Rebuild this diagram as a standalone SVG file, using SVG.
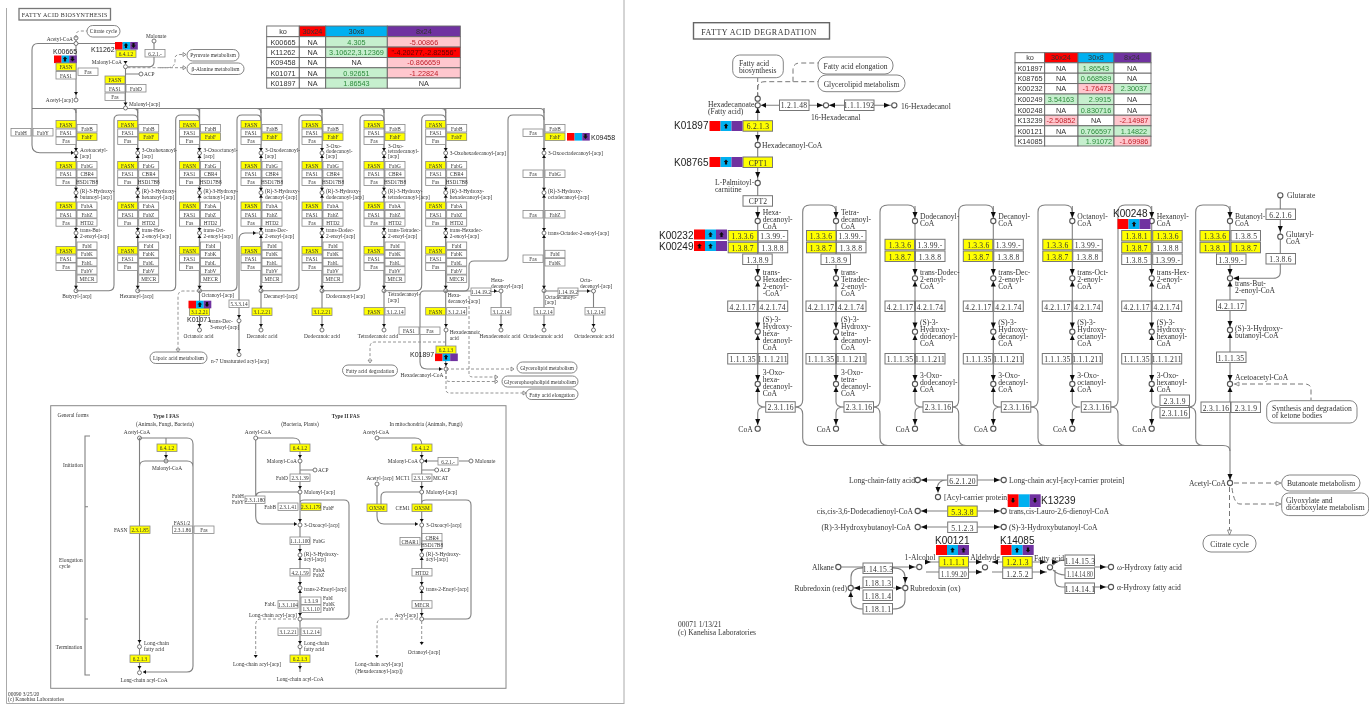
<svg xmlns="http://www.w3.org/2000/svg" width="1369" height="704" viewBox="0 0 1369 704">
<style>
text{font-family:"Liberation Serif","Times New Roman",serif;fill:#333}
.s text{font-size:5.3px;text-anchor:middle}
.l text{font-size:5.4px}
.e text{font-size:5.4px;text-anchor:end}
.m text{font-size:5.4px;text-anchor:middle}
.r text{font-size:7.6px;text-anchor:middle;letter-spacing:.2px}
.p text{font-size:7.6px}
.pe text{font-size:7.6px;text-anchor:end}
.pm text{font-size:7.6px;text-anchor:middle}
.k1 text{font-family:"Liberation Sans",Arial,sans-serif;font-size:10px;fill:#222}
.k0 text{font-family:"Liberation Sans",Arial,sans-serif;font-size:7px;fill:#222}
.t text{font-family:"Liberation Sans",Arial,sans-serif;font-size:7.3px;text-anchor:middle;fill:#333}
.t .g{fill:#2e8b3d}.t .d{fill:#c0202a}
.t rect{stroke:#666;stroke-width:.9}
rect.a,rect.ay{width:20px;height:7.5px;stroke:#888;stroke-width:.8;fill:#fff}
rect.ay{fill:#ff0}
rect.c,rect.cy{width:29.5px;height:10.5px;stroke:#777;stroke-width:1;fill:#fff}
rect.cy{fill:#ff0}
.ln{fill:none;stroke:#808080;stroke-width:1.1}
.th{fill:none;stroke:#888;stroke-width:1.4}
.d1{fill:none;stroke:#888;stroke-width:.9;stroke-dasharray:3 2}
.d2{fill:none;stroke:#777;stroke-width:1;stroke-dasharray:5 3}
.o{fill:#fff;stroke:#666;stroke-width:.9}
.o2{fill:#fff;stroke:#555;stroke-width:1.1}
.pill{fill:#fff;stroke:#777;stroke-width:.9}
.ar{fill:#111}
.oa{fill:#fff;stroke:#777;stroke-width:.8}
</style>
<defs>
<filter id="soft" x="0" y="0" width="100%" height="100%"><feGaussianBlur stdDeviation="0.45"/></filter>
<g id="cl"><path class="th" d="M0,108V291"/><circle class="o" cy="153" r="2"/><circle class="o" cy="192.7" r="2"/><circle class="o" cy="233" r="2"/><circle class="o" cy="290.7" r="2"/><path class="ar" d="M-2,148h4l-2,3zM0,155l2,3h-4zM-2,187.7h4l-2,3zM0,194.7l2,3h-4zM-2,228h4l-2,3zM0,235l2,3h-4zM-2,285.7h4l-2,3z"/></g>
<g id="cr"><path class="ln" d="M0,206V402Q0,407 8,407M8,407Q0,407 0,413V425"/><circle class="o2" cy="221" r="2.6"/><circle class="o2" cy="278.3" r="2.6"/><circle class="o2" cy="331.7" r="2.6"/><circle class="o2" cy="384" r="2.6"/><circle class="o2" cy="428.7" r="2.6"/><path class="ar" d="M-2.5,212h5l-2.5,6zM-2.5,269h5l-2.5,6zM0,281.5l2.5,5h-5zM-2.5,322.5h5l-2.5,6zM0,335l2.5,5h-5zM-2.5,375h5l-2.5,6zM0,387l2.5,5h-5zM-2.5,419h5l-2.5,6z"/></g>
<g id="sq"><rect width="7.6" height="7.6" fill="#f00"/><rect x="7.6" width="7.6" height="7.6" fill="#00b0f0"/><rect x="15.2" width="7.6" height="7.6" fill="#7030a0"/></g>
<g id="sq2"><rect width="11" height="10" fill="#f00"/><rect x="11" width="11" height="10" fill="#00b0f0"/><rect x="22" width="11" height="10" fill="#7030a0"/></g>
<path id="u" class="ar" d="M0,-2.5l2.3,2.5h-1.2v2.5h-2.2v-2.5h-1.2z"/>
<path id="v" class="ar" d="M0,2.5l2.3,-2.5h-1.2v-2.5h-2.2v2.5h-1.2z"/>
</defs>
<rect width="1369" height="704" fill="#fff"/>
<g filter="url(#soft)">
<g id="frame"><path fill="none" stroke="#aaa" stroke-width="1" d="M6.5,8V703.5H624M624,0V704"/></g>
<g id="connectors">
<use href="#cl" x="76"/><use href="#cl" x="137.7"/><use href="#cl" x="199.5"/><use href="#cl" x="261"/><use href="#cl" x="322"/><use href="#cl" x="384"/><use href="#cl" x="445.7"/><use href="#cl" x="544"/>
<path class="ln" d="M76,38V100M125.5,66V108M154,43V62Q154,66.7 149,66.7H128M76,43.5H38Q32,43.5 32,50V145Q32,152.7 40,152.7H73M76,43.5H125Q125.5,43.5 125.5,50M125.5,74H139M32,108.5H540Q544,108.5 544,113M133.7,108.5Q137.7,108.5 137.7,113M195.5,108.5Q199.5,108.5 199.5,113M257,108.5Q261,108.5 261,113M318,108.5Q322,108.5 322,113M380,108.5Q384,108.5 384,113M441.7,108.5Q445.7,108.5 445.7,113M72,108.5Q76,108.5 76,113"/>
<path class="ln" d="M76,290.7H109Q114,290.7 114,285V120Q114,115 119,115H133Q137.7,115 137.7,120M137.7,290.7H171Q175.7,290.7 175.7,285V120Q175.7,115 181,115H195Q199.5,115 199.5,120M199.5,290.7H232Q237,290.7 237,285V120Q237,115 242,115H257Q261,115 261,120M261,290.7H294Q299,290.7 299,285V120Q299,115 304,115H318Q322,115 322,120M322,290.7H355Q360,290.7 360,285V120Q360,115 365,115H380Q384,115 384,120M384,290.7H417Q421.7,290.7 421.7,285V120Q421.7,115 427,115H441Q445.7,115 445.7,120M445.7,291H464Q469,291 469,286V266Q469,261 474,261H503Q508,261 508,256V120Q508,115 513,115H540Q544,115 544,120"/>
<path class="ln" d="M199.5,291V328M239,354V240Q239,233 245,233H258M261,291V328M322,291V328M384,291V328M445.7,291V367M544,291V328M445.7,291H424Q420,291 420,296V362Q420,369 427,369H443M446,291H491M501,293V328M491,291.5H499M578,291H591M593.5,293V328M544,291H558"/>
<circle class="o" cx="76" cy="38" r="2"/><circle class="o" cx="76" cy="43.5" r="2"/><circle class="o" cx="154" cy="41" r="2"/><circle class="o" cx="125.5" cy="66.7" r="2"/><circle class="o" cx="141" cy="74" r="2"/><circle class="o" cx="76" cy="100" r="2"/><circle class="o" cx="125.5" cy="108" r="2"/>
<circle class="o" cx="199.5" cy="330" r="2"/><circle class="o" cx="261" cy="330" r="2"/><circle class="o" cx="322" cy="330" r="2"/><circle class="o" cx="384" cy="330" r="2"/><circle class="o" cx="446" cy="330" r="2"/><circle class="o" cx="501" cy="291" r="2"/><circle class="o" cx="501" cy="330" r="2"/><circle class="o" cx="544" cy="330" r="2"/><circle class="o" cx="593.5" cy="291" r="2"/><circle class="o" cx="593.5" cy="330" r="2"/><circle class="o" cx="239" cy="320.7" r="2"/><circle class="o" cx="239" cy="354.7" r="2"/><circle class="o" cx="446" cy="369" r="2"/>
<path class="ar" d="M74,92h4l-2,3zM123.5,61h4l-2,3zM123.5,102.5h4l-2,3zM71,150.7l3,2l-3,2zM253,231l3,2l-3,2zM439,367l3,2l-3,2zM197.5,324h4l-2,3zM259,324h4l-2,3zM320,324h4l-2,3zM382,324h4l-2,3zM444,324h4l-2,3zM499,324h4l-2,3zM542,324h4l-2,3zM591.5,324h4l-2,3zM237,315h4l-2,3zM237,349h4l-2,3zM444,363h4l-2,3zM494,289l3,2l-3,2zM587,289l3,2l-3,2z"/>
<path class="d1" d="M76,38V35Q76,31 81,31H87M127.5,67.7H167Q175,67.7 175,61V58Q175,54.5 181,54.5H186M160,67.7H186M199.5,291H183Q178,291 178,297V349M446,342H375Q370,342 370,347V359M446,369H512M446,371V390Q446,393 450,393H525M446,371V379Q446,381.5 450,381.5H497M469,296V374Q469,377 473,377H497"/>
<path class="oa" d="M183,52.5l3,2l-3,2zM183,65.7l3,2l-3,2zM176,349h4l-2,3zM368,360h4l-2,3zM511,367l3,2l-3,2zM523,391l3,2l-3,2zM495,379.5l3,2l-3,2zM495,375l3,2l-3,2z"/>
<circle class="o" cx="139.5" cy="438" r="2"/><circle class="o" cx="166" cy="461" r="2"/><circle class="o" cx="139.5" cy="646.7" r="2"/><circle class="o" cx="139.5" cy="672.7" r="2"/>
<path class="ln" d="M139.5,438V645M139.5,438H187Q193,438 193,444V666Q193,672 187,672H143M166,438V459M139.5,467Q139.5,461 145,461H187Q193,461 193,467M139.5,649V670"/>
<path class="ln" d="M90,436H85V675H90M85,506.7H88M85,619H88"/>
<path class="ar" d="M137.5,640h4l-2,3zM137.5,666h4l-2,3zM164,455h4l-2,3zM146,670l-3,2l3,2z"/>
<path class="ln" d="M255.7,438H293Q300,438 300,444V672M255.7,438V516Q255.7,524 262,524H297M300,470H313M300,492H262Q256,492 256,497M300,503V503Q300,500 304,500H344Q349,500 349,505V614Q349,619 344,619H300M377,438H415Q421.7,438 421.7,444V617M421.7,470H435M377,486V516Q377,524 384,524H418M421.7,492H386Q381,492 381,497V504M421.7,503Q421.7,500 426,500H466Q471,500 471,505V614Q471,619 466,619H421.7M438,461H424M459,461H469"/>
<circle class="o" cx="255.7" cy="438" r="2"/><circle class="o" cx="300" cy="461" r="2"/><circle class="o" cx="315" cy="470" r="2"/><circle class="o" cx="300" cy="492" r="2"/><circle class="o" cx="300" cy="525" r="2"/><circle class="o" cx="300" cy="555" r="2"/><circle class="o" cx="300" cy="588" r="2"/><circle class="o" cx="300" cy="619" r="2"/><circle class="o" cx="300" cy="646.7" r="2"/>
<circle class="o" cx="377" cy="438" r="2"/><circle class="o" cx="421.7" cy="461" r="2"/><circle class="o" cx="436.7" cy="470" r="2"/><circle class="o" cx="421.7" cy="492" r="2"/><circle class="o" cx="377" cy="484" r="2"/><circle class="o" cx="421.7" cy="525" r="2"/><circle class="o" cx="421.7" cy="555" r="2"/><circle class="o" cx="421.7" cy="588" r="2"/><circle class="o" cx="421.7" cy="619" r="2"/><circle class="o" cx="471" cy="461" r="2"/>
<path class="ar" d="M298,455h4l-2,3zM298,486h4l-2,3zM298,519h4l-2,3zM298,549h4l-2,3zM300,557l2,3h-4zM298,582h4l-2,3zM300,590l2,3h-4zM298,613h4l-2,3zM298,641h4l-2,3zM298,666h4l-2,3zM294,522l3,2l-3,2zM419.7,455h4l-2,3zM419.7,486h4l-2,3zM419.7,519h4l-2,3zM419.7,549h4l-2,3zM421.7,557l2,3h-4zM419.7,582h4l-2,3zM421.7,590l2,3h-4zM419.7,613h4l-2,3zM415,522l3,2l-3,2zM427,459l-3,2l3,2z"/>
<path class="d1" d="M296,619H261Q255.7,619 255.7,625V655M421.7,621V642M418,619H382Q377,619 377,625V655"/>
<path class="ar" d="M253.7,655h4l-2,3zM419.7,642h4l-2,3zM375,655h4l-2,3z"/>
<path class="d2" d="M757.7,98V78M757.7,97V88Q757.7,81.7 765,81.7H818M793,81.7V70Q793,63 800,63H818"/>
<path class="ln" d="M757.7,108V206M761,105.3H779M809,105.3H824M828.5,105.3H844M874,105.3H892"/>
<circle class="o2" cx="757.7" cy="98.7" r="2.6"/><circle class="o2" cx="757.7" cy="105.3" r="2.6"/><circle class="o2" cx="826" cy="105.3" r="2.6"/><circle class="o2" cx="894.3" cy="105.3" r="2.6"/><circle class="o2" cx="757.7" cy="145" r="2.6"/><circle class="o2" cx="757.7" cy="183" r="2.6"/>
<path class="ar" d="M761,105.3l5,-2.5v5zM817,102.8l6,2.5l-6,2.5zM835,102.8l-6,2.5l6,2.5zM884,102.8l6,2.5l-6,2.5zM757.7,108l2.5,5h-5zM755.2,135h5l-2.5,6zM755.2,172h5l-2.5,6z"/>
<use href="#cr" x="757.7"/><use href="#cr" x="836"/><use href="#cr" x="915"/><use href="#cr" x="993.3"/><use href="#cr" x="1072.3"/><use href="#cr" x="1151.7"/>
<path class="ln" d="M795,407Q802.7,407 802.7,400V212Q802.7,205 810,205H829Q836,205 836,212M873.5,407Q880,407 880,400V212Q880,205 888,205H908Q915,205 915,212M952.5,407Q958.7,407 958.7,400V212Q958.7,205 966,205H986Q993.3,205 993.3,212M1031,407Q1038,407 1038,400V212Q1038,205 1045,205H1065Q1072.3,205 1072.3,212M1111,407Q1118,407 1118,400V212Q1118,205 1125,205H1145Q1151.7,205 1151.7,212M1188,407Q1195.7,407 1195.7,400V212Q1195.7,205 1203,205H1223Q1230,205 1230,212"/>
<path class="ln" d="M795,407Q802.7,407 802.7,414V438Q802.7,445.5 810,445.5H1223Q1230,445.5 1230,451M873.5,407Q880,407 880,414V438Q880,445.5 888,445.5M952.5,407Q958.7,407 958.7,414V438Q958.7,445.5 966,445.5M1031,407Q1038,407 1038,414V438Q1038,445.5 1045,445.5M1111,407Q1118,407 1118,414V438Q1118,445.5 1125,445.5M1188,407Q1195.7,407 1195.7,414V438Q1195.7,445.5 1203,445.5"/>
<path class="ln" d="M1230,206V480M1280.3,198V272Q1280.3,278.3 1273,278.3H1236"/>
<circle class="o2" cx="1230" cy="221" r="2.6"/><circle class="o2" cx="1230" cy="278.3" r="2.6"/><circle class="o2" cx="1230" cy="330" r="2.6"/><circle class="o2" cx="1230" cy="384" r="2.6"/><circle class="o2" cx="1230" cy="483" r="2.6"/><circle class="o2" cx="1280.3" cy="195.3" r="2.6"/><circle class="o2" cx="1280.3" cy="236.7" r="2.6"/>
<path class="ar" d="M1227.5,212h5l-2.5,6zM1227.5,269h5l-2.5,6zM1230,281.5l2.5,5h-5zM1227.5,321h5l-2.5,6zM1230,333l2.5,5h-5zM1227.5,375h5l-2.5,6zM1230,387l2.5,5h-5zM1227.5,474h5l-2.5,6zM1233,278.3l6,-2.5v5zM1277.8,226h5l-2.5,6z"/>
<path class="d2" d="M1234,384H1305Q1311,384 1311,390V400M1234,483H1277M1232,488Q1234,504 1240,504H1277M1229.5,487V531"/>
<path class="oa" d="M1235,384l4,-2v4zM1276,481l5,2l-5,2zM1276,502l5,2l-5,2zM1227.5,530h4l-2,5z"/>
<path class="ln" d="M920,480H947M977,480H1001M947,480Q937,480 937,490M920,511H947M977,511H1001M920,527H947M977,527H1001M841,567H863M893,567H916M926,562H939M926,572H939M968,562H982M968,572H982M992,562H1003M992,572H1003M1031,562H1047M1031,572H1047M1053,565Q1058,560 1065,560M1053,570Q1058,575 1065,575M1094,567H1108M1055,570V580Q1055,587 1062,587H1065M1094,587H1108M853,588H863M893,588H902M851,585V577Q851,568 863,568M905,585V577Q905,568 893,568M851,591V600Q851,609 863,609M905,591V600Q905,609 893,609"/>
<circle class="o2" cx="917.7" cy="480" r="2.6"/><circle class="o2" cx="1003.7" cy="480" r="2.6"/><circle class="o2" cx="938" cy="497" r="2.6"/><circle class="o2" cx="917.7" cy="511" r="2.6"/><circle class="o2" cx="1003.7" cy="511" r="2.6"/><circle class="o2" cx="917.7" cy="527" r="2.6"/><circle class="o2" cx="1003.7" cy="527" r="2.6"/><circle class="o2" cx="838.3" cy="567" r="2.6"/><circle class="o2" cx="919.3" cy="567" r="2.6"/><circle class="o2" cx="985" cy="567.3" r="2.6"/><circle class="o2" cx="1050" cy="567.3" r="2.6"/><circle class="o2" cx="1111" cy="567" r="2.6"/><circle class="o2" cx="1111" cy="587" r="2.6"/><circle class="o2" cx="850.7" cy="588" r="2.6"/><circle class="o2" cx="905.3" cy="588" r="2.6"/>
<path class="ar" d="M921,480l6,-2.5v5zM994,477.5l6,2.5l-6,2.5zM921,511l6,-2.5v5zM994,508.5l6,2.5l-6,2.5zM921,527l6,-2.5v5zM994,524.5l6,2.5l-6,2.5zM935.5,487h5l-2.5,6zM909,564.5l6,2.5l-6,2.5zM931,562l-6,-2.5v5zM976,569.5l6,2.5l-6,2.5zM992,562l6,-2.5v5zM976,559.5l6,2.5l-6,2.5zM1040,569.5l6,2.5l-6,2.5zM1040,559.5l6,2.5l-6,2.5zM1058,562l-6,-2.5v5zM1100,564.5l6,2.5l-6,2.5zM1100,584.5l6,2.5l-6,2.5zM854,588l6,-2.5v5zM896,585.5l6,2.5l-6,2.5zM902.8,577h5l-2.5,6zM848.2,597l2.5,-5l2.5,5z"/>
</g>
<g id="title-biosynthesis"><rect x="19" y="8.5" width="91.5" height="11.5" fill="#fff" stroke="#777" stroke-width="1.3"/><text x="64.7" y="17" font-size="6" text-anchor="middle" letter-spacing=".35">FATTY ACID BIOSYNTHESIS</text></g>
<g id="table-left" class="t">
<rect x="266.7" y="26" width="32.6" height="10.7" fill="#fff"/><rect x="299.3" y="26" width="26.4" height="10.7" fill="#f00"/><rect x="325.7" y="26" width="61.6" height="10.7" fill="#00b0f0"/><rect x="387.3" y="26" width="73" height="10.7" fill="#7030a0"/>
<text x="283" y="34">ko</text><text x="312.5" y="34">30x24</text><text x="356.5" y="34">30x8</text><text x="423.8" y="34">8x24</text>
<rect x="266.7" y="36.7" width="32.6" height="10.4" fill="#fff"/><rect x="299.3" y="36.7" width="26.4" height="10.4" fill="#fff"/><rect x="325.7" y="36.7" width="61.6" height="10.4" fill="#c6efce"/><rect x="387.3" y="36.7" width="73" height="10.4" fill="#ffc7ce"/>
<text x="283" y="44.7">K00665</text><text x="312.5" y="44.7">NA</text><text class="g" x="356.5" y="44.7">4.305</text><text class="d" x="423.8" y="44.7">-5.00866</text>
<rect x="266.7" y="47.1" width="32.6" height="10.4" fill="#fff"/><rect x="299.3" y="47.1" width="26.4" height="10.4" fill="#fff"/><rect x="325.7" y="47.1" width="61.6" height="10.4" fill="#c6efce"/><rect x="387.3" y="47.1" width="73" height="10.4" fill="#f00"/>
<text x="283" y="55">K11262</text><text x="312.5" y="55">NA</text><text class="g" x="356.5" y="55">3.10622,3.12369</text><text x="423.8" y="55" style="fill:#600">"-4.20277,-2.82556"</text>
<rect x="266.7" y="57.5" width="32.6" height="10.3" fill="#fff"/><rect x="299.3" y="57.5" width="26.4" height="10.3" fill="#fff"/><rect x="325.7" y="57.5" width="61.6" height="10.3" fill="#fff"/><rect x="387.3" y="57.5" width="73" height="10.3" fill="#ffc7ce"/>
<text x="283" y="65.3">K09458</text><text x="312.5" y="65.3">NA</text><text x="356.5" y="65.3">NA</text><text class="d" x="423.8" y="65.3">-0.866659</text>
<rect x="266.7" y="67.8" width="32.6" height="10.2" fill="#fff"/><rect x="299.3" y="67.8" width="26.4" height="10.2" fill="#fff"/><rect x="325.7" y="67.8" width="61.6" height="10.2" fill="#c6efce"/><rect x="387.3" y="67.8" width="73" height="10.2" fill="#ffc7ce"/>
<text x="283" y="75.6">K01071</text><text x="312.5" y="75.6">NA</text><text class="g" x="356.5" y="75.6">0.92651</text><text class="d" x="423.8" y="75.6">-1.22824</text>
<rect x="266.7" y="78" width="32.6" height="10.2" fill="#fff"/><rect x="299.3" y="78" width="26.4" height="10.2" fill="#fff"/><rect x="325.7" y="78" width="61.6" height="10.2" fill="#c6efce"/><rect x="387.3" y="78" width="73" height="10.2" fill="#fff"/>
<text x="283" y="85.8">K01897</text><text x="312.5" y="85.8">NA</text><text class="g" x="356.5" y="85.8">1.86543</text><text x="423.8" y="85.8">NA</text>
</g>
<g id="pw-citrate"><rect class="pill" x="87" y="25.5" width="33" height="11.5" rx="5.7"/><g class="m"><text x="103.5" y="33.2">Citrate cycle</text></g></g>
<g id="pw-pyruvate"><rect class="pill" x="187" y="49.5" width="52" height="11.5" rx="5.7"/><g class="m"><text x="213" y="57.2">Pyruvate metabolism</text></g></g>
<g id="pw-alanine"><rect class="pill" x="187" y="63" width="57" height="11.5" rx="5.7"/><g class="m"><text x="215.5" y="70.7">β-Alanine metabolism</text></g></g>
<g id="pw-lipoic"><rect class="pill" x="150" y="352" width="57" height="11.5" rx="5.7"/><g class="m"><text x="178.5" y="359.7">Lipoic acid metabolism</text></g></g>
<g id="pw-fad"><rect class="pill" x="342.5" y="365" width="55" height="11" rx="5.5"/><g class="m"><text x="370" y="372.5">Fatty acid degradation</text></g></g>
<g id="pw-glycero"><rect class="pill" x="517" y="362" width="60" height="11" rx="5.5"/><g class="m"><text x="547" y="369.7">Glycerolipid metabolism</text></g></g>
<g id="pw-glycphos"><rect class="pill" x="502" y="376" width="76" height="11" rx="5.5"/><g class="m"><text x="540" y="383.7">Glycerophospholipid metabolism</text></g></g>
<g id="pw-elong"><rect class="pill" x="526" y="389" width="52" height="10.5" rx="5.2"/><g class="m"><text x="552" y="396.5">Fatty acid elongation</text></g></g>
<g id="met-top" class="e"><text x="73" y="41">Acetyl-CoA</text><text x="122" y="64">Malonyl-CoA</text><text x="73" y="102">Acetyl-[acp]</text></g>
<g id="met-top2" class="l"><text x="146" y="38">Malonate</text><text x="144" y="76">ACP</text><text x="129" y="106">Malonyl-[acp]</text></g>
<g id="k00665" class="k0"><text x="53" y="54">K00665</text><use href="#sq" x="54" y="55.5"/><use href="#u" x="65" y="59"/><use href="#v" x="72.5" y="59"/></g>
<g id="k11262" class="k0"><text x="91" y="52">K11262</text><use href="#sq" x="115" y="42"/><use href="#u" x="126" y="45.5"/><use href="#v" x="133.5" y="45.5"/></g>
<g id="e-top" class="s">
<rect class="ay" x="56" y="63"/><text x="66" y="69">FASN</text><rect class="a" x="56" y="71.5"/><text x="66" y="77.5">FAS1</text><rect class="a" x="78" y="68"/><text x="88" y="74">Fas</text>
<rect class="ay" x="116" y="50"/><text x="126" y="56">6.4.1.2</text><rect class="a" x="145" y="49.5"/><text x="155" y="55.5">6.2.1.-</text>
<rect class="ay" x="105" y="76"/><text x="115" y="82">FASN</text><rect class="a" x="105" y="84.5"/><text x="115" y="90.5">FAS1</text><rect class="a" x="126" y="84.5"/><text x="136" y="90.5">FabD</text><rect class="a" x="105" y="93"/><text x="115" y="99">Fas</text>
<rect class="a" x="11" y="128.5"/><text x="21" y="134.5">FabH</text><rect class="a" x="33" y="128.5"/><text x="43" y="134.5">FabY</text>
</g>
<g id="col1" transform="translate(76)"><g class="s"><rect class="ay" x="-20" y="120.5"/><text x="-10" y="126.5">FASN</text><rect class="a" x="-20" y="129"/><text x="-10" y="135">FAS1</text><rect class="a" x="-20" y="137"/><text x="-10" y="143">Fas</text><rect class="a" x="1" y="124.5"/><text x="11" y="130.5">FabB</text><rect class="ay" x="1" y="133"/><text x="11" y="139">FabF</text><rect class="ay" x="-20" y="161.5"/><text x="-10" y="167.5">FASN</text><rect class="a" x="-20" y="170"/><text x="-10" y="176">FAS1</text><rect class="a" x="-20" y="178"/><text x="-10" y="184">Fas</text><rect class="a" x="1" y="161.5"/><text x="11" y="167.5">FabG</text><rect class="a" x="1" y="170"/><text x="11" y="176">CBR4</text><rect class="a" x="1" y="178"/><text x="11" y="184">HSD17B8</text><rect class="ay" x="-20" y="202"/><text x="-10" y="208">FASN</text><rect class="a" x="-20" y="210.5"/><text x="-10" y="216.5">FAS1</text><rect class="a" x="-20" y="218.7"/><text x="-10" y="224.7">Fas</text><rect class="a" x="1" y="202"/><text x="11" y="208">FabA</text><rect class="a" x="1" y="210.5"/><text x="11" y="216.5">FabZ</text><rect class="a" x="1" y="218.7"/><text x="11" y="224.7">HTD2</text><rect class="ay" x="-20" y="246.5"/><text x="-10" y="252.5">FASN</text><rect class="a" x="-20" y="255"/><text x="-10" y="261">FAS1</text><rect class="a" x="-20" y="263"/><text x="-10" y="269">Fas</text><rect class="a" x="1" y="242"/><text x="11" y="248">FabI</text><rect class="a" x="1" y="250.3"/><text x="11" y="256.3">FabK</text><rect class="a" x="1" y="258.5"/><text x="11" y="264.5">FabL</text><rect class="a" x="1" y="266.7"/><text x="11" y="272.7">FabV</text><rect class="a" x="1" y="275"/><text x="11" y="281">MECR</text></g><g class="l"><text x="4" y="152">Acetoacetyl-</text><text x="4" y="157.5">[acp]</text><text x="4" y="193">(R)-3-Hydroxy-</text><text x="4" y="198.5">butanoyl-[acp]</text><text x="4" y="232">trans-But-</text><text x="4" y="238">2-enoyl-[acp]</text></g><g class="m"><text x="1" y="298">Butyryl-[acp]</text></g></g>
<g id="col2" transform="translate(137.7)"><g class="s"><rect class="ay" x="-20" y="120.5"/><text x="-10" y="126.5">FASN</text><rect class="a" x="-20" y="129"/><text x="-10" y="135">FAS1</text><rect class="a" x="-20" y="137"/><text x="-10" y="143">Fas</text><rect class="a" x="1" y="124.5"/><text x="11" y="130.5">FabB</text><rect class="ay" x="1" y="133"/><text x="11" y="139">FabF</text><rect class="ay" x="-20" y="161.5"/><text x="-10" y="167.5">FASN</text><rect class="a" x="-20" y="170"/><text x="-10" y="176">FAS1</text><rect class="a" x="-20" y="178"/><text x="-10" y="184">Fas</text><rect class="a" x="1" y="161.5"/><text x="11" y="167.5">FabG</text><rect class="a" x="1" y="170"/><text x="11" y="176">CBR4</text><rect class="a" x="1" y="178"/><text x="11" y="184">HSD17B8</text><rect class="ay" x="-20" y="202"/><text x="-10" y="208">FASN</text><rect class="a" x="-20" y="210.5"/><text x="-10" y="216.5">FAS1</text><rect class="a" x="-20" y="218.7"/><text x="-10" y="224.7">Fas</text><rect class="a" x="1" y="202"/><text x="11" y="208">FabA</text><rect class="a" x="1" y="210.5"/><text x="11" y="216.5">FabZ</text><rect class="a" x="1" y="218.7"/><text x="11" y="224.7">HTD2</text><rect class="ay" x="-20" y="246.5"/><text x="-10" y="252.5">FASN</text><rect class="a" x="-20" y="255"/><text x="-10" y="261">FAS1</text><rect class="a" x="-20" y="263"/><text x="-10" y="269">Fas</text><rect class="a" x="1" y="242"/><text x="11" y="248">FabI</text><rect class="a" x="1" y="250.3"/><text x="11" y="256.3">FabK</text><rect class="a" x="1" y="258.5"/><text x="11" y="264.5">FabL</text><rect class="a" x="1" y="266.7"/><text x="11" y="272.7">FabV</text><rect class="a" x="1" y="275"/><text x="11" y="281">MECR</text></g><g class="l"><text x="4" y="152">3-Oxohexanoyl-</text><text x="4" y="157.5">[acp]</text><text x="4" y="193">(R)-3-Hydroxy-</text><text x="4" y="198.5">hexanoyl-[acp]</text><text x="4" y="232">trans-Hex-</text><text x="4" y="238">2-enoyl-[acp]</text></g><g class="m"><text x="-1" y="298">Hexanoyl-[acp]</text></g></g>
<g id="col3" transform="translate(199.5)"><g class="s"><rect class="ay" x="-20" y="120.5"/><text x="-10" y="126.5">FASN</text><rect class="a" x="-20" y="129"/><text x="-10" y="135">FAS1</text><rect class="a" x="-20" y="137"/><text x="-10" y="143">Fas</text><rect class="a" x="1" y="124.5"/><text x="11" y="130.5">FabB</text><rect class="ay" x="1" y="133"/><text x="11" y="139">FabF</text><rect class="ay" x="-20" y="161.5"/><text x="-10" y="167.5">FASN</text><rect class="a" x="-20" y="170"/><text x="-10" y="176">FAS1</text><rect class="a" x="-20" y="178"/><text x="-10" y="184">Fas</text><rect class="a" x="1" y="161.5"/><text x="11" y="167.5">FabG</text><rect class="a" x="1" y="170"/><text x="11" y="176">CBR4</text><rect class="a" x="1" y="178"/><text x="11" y="184">HSD17B8</text><rect class="ay" x="-20" y="202"/><text x="-10" y="208">FASN</text><rect class="a" x="-20" y="210.5"/><text x="-10" y="216.5">FAS1</text><rect class="a" x="-20" y="218.7"/><text x="-10" y="224.7">Fas</text><rect class="a" x="1" y="202"/><text x="11" y="208">FabA</text><rect class="a" x="1" y="210.5"/><text x="11" y="216.5">FabZ</text><rect class="a" x="1" y="218.7"/><text x="11" y="224.7">HTD2</text><rect class="ay" x="-20" y="246.5"/><text x="-10" y="252.5">FASN</text><rect class="a" x="-20" y="255"/><text x="-10" y="261">FAS1</text><rect class="a" x="-20" y="263"/><text x="-10" y="269">Fas</text><rect class="a" x="1" y="242"/><text x="11" y="248">FabI</text><rect class="a" x="1" y="250.3"/><text x="11" y="256.3">FabK</text><rect class="a" x="1" y="258.5"/><text x="11" y="264.5">FabL</text><rect class="a" x="1" y="266.7"/><text x="11" y="272.7">FabV</text><rect class="a" x="1" y="275"/><text x="11" y="281">MECR</text></g><g class="l"><text x="4" y="152">3-Oxooctanoyl-</text><text x="4" y="157.5">[acp]</text><text x="4" y="193">(R)-3-Hydroxy-</text><text x="4" y="198.5">octanoyl-[acp]</text><text x="4" y="232">trans-Oct-</text><text x="4" y="238">2-enoyl-[acp]</text><text x="2" y="296.5">Octanoyl-[acp]</text></g><g class="s"><rect class="ay" x="-10" y="308"/><text x="0" y="314">3.1.2.21</text></g><g class="m"><text x="-1" y="338">Octanoic acid</text></g></g>
<g id="col4" transform="translate(261)"><g class="s"><rect class="ay" x="-20" y="120.5"/><text x="-10" y="126.5">FASN</text><rect class="a" x="-20" y="129"/><text x="-10" y="135">FAS1</text><rect class="a" x="-20" y="137"/><text x="-10" y="143">Fas</text><rect class="a" x="1" y="124.5"/><text x="11" y="130.5">FabB</text><rect class="ay" x="1" y="133"/><text x="11" y="139">FabF</text><rect class="ay" x="-20" y="161.5"/><text x="-10" y="167.5">FASN</text><rect class="a" x="-20" y="170"/><text x="-10" y="176">FAS1</text><rect class="a" x="-20" y="178"/><text x="-10" y="184">Fas</text><rect class="a" x="1" y="161.5"/><text x="11" y="167.5">FabG</text><rect class="a" x="1" y="170"/><text x="11" y="176">CBR4</text><rect class="a" x="1" y="178"/><text x="11" y="184">HSD17B8</text><rect class="ay" x="-20" y="202"/><text x="-10" y="208">FASN</text><rect class="a" x="-20" y="210.5"/><text x="-10" y="216.5">FAS1</text><rect class="a" x="-20" y="218.7"/><text x="-10" y="224.7">Fas</text><rect class="a" x="1" y="202"/><text x="11" y="208">FabA</text><rect class="a" x="1" y="210.5"/><text x="11" y="216.5">FabZ</text><rect class="a" x="1" y="218.7"/><text x="11" y="224.7">HTD2</text><rect class="ay" x="-20" y="246.5"/><text x="-10" y="252.5">FASN</text><rect class="a" x="-20" y="255"/><text x="-10" y="261">FAS1</text><rect class="a" x="-20" y="263"/><text x="-10" y="269">Fas</text><rect class="a" x="1" y="242"/><text x="11" y="248">FabI</text><rect class="a" x="1" y="250.3"/><text x="11" y="256.3">FabK</text><rect class="a" x="1" y="258.5"/><text x="11" y="264.5">FabL</text><rect class="a" x="1" y="266.7"/><text x="11" y="272.7">FabV</text><rect class="a" x="1" y="275"/><text x="11" y="281">MECR</text></g><g class="l"><text x="4" y="152">3-Oxodecanoyl-</text><text x="4" y="157.5">[acp]</text><text x="4" y="193">(R)-3-Hydroxy-</text><text x="4" y="198.5">decanoyl-[acp]</text><text x="4" y="232">trans-Dec-</text><text x="4" y="238">2-enoyl-[acp]</text><text x="3" y="297.5">Decanoyl-[acp]</text></g><g class="s"><rect class="ay" x="-9" y="308"/><text x="1" y="314">3.1.2.21</text></g><g class="m"><text x="1" y="338">Decanoic acid</text></g></g>
<g id="col5" transform="translate(322)"><g class="s"><rect class="ay" x="-20" y="120.5"/><text x="-10" y="126.5">FASN</text><rect class="a" x="-20" y="129"/><text x="-10" y="135">FAS1</text><rect class="a" x="-20" y="137"/><text x="-10" y="143">Fas</text><rect class="a" x="1" y="124.5"/><text x="11" y="130.5">FabB</text><rect class="ay" x="1" y="133"/><text x="11" y="139">FabF</text><rect class="ay" x="-20" y="161.5"/><text x="-10" y="167.5">FASN</text><rect class="a" x="-20" y="170"/><text x="-10" y="176">FAS1</text><rect class="a" x="-20" y="178"/><text x="-10" y="184">Fas</text><rect class="a" x="1" y="161.5"/><text x="11" y="167.5">FabG</text><rect class="a" x="1" y="170"/><text x="11" y="176">CBR4</text><rect class="a" x="1" y="178"/><text x="11" y="184">HSD17B8</text><rect class="ay" x="-20" y="202"/><text x="-10" y="208">FASN</text><rect class="a" x="-20" y="210.5"/><text x="-10" y="216.5">FAS1</text><rect class="a" x="-20" y="218.7"/><text x="-10" y="224.7">Fas</text><rect class="a" x="1" y="202"/><text x="11" y="208">FabA</text><rect class="a" x="1" y="210.5"/><text x="11" y="216.5">FabZ</text><rect class="a" x="1" y="218.7"/><text x="11" y="224.7">HTD2</text><rect class="ay" x="-20" y="246.5"/><text x="-10" y="252.5">FASN</text><rect class="a" x="-20" y="255"/><text x="-10" y="261">FAS1</text><rect class="a" x="-20" y="263"/><text x="-10" y="269">Fas</text><rect class="a" x="1" y="242"/><text x="11" y="248">FabI</text><rect class="a" x="1" y="250.3"/><text x="11" y="256.3">FabK</text><rect class="a" x="1" y="258.5"/><text x="11" y="264.5">FabL</text><rect class="a" x="1" y="266.7"/><text x="11" y="272.7">FabV</text><rect class="a" x="1" y="275"/><text x="11" y="281">MECR</text></g><g class="l"><text x="4" y="148">3-Oxo-</text><text x="4" y="153">dodecanoyl-</text><text x="4" y="158">[acp]</text><text x="4" y="193">(R)-3-Hydroxy-</text><text x="4" y="198.5">dodecanoyl-[acp]</text><text x="4" y="232">trans-Dodec-</text><text x="4" y="238">2-enoyl-[acp]</text><text x="4" y="297.5">Dodecanoyl-[acp]</text></g><g class="s"><rect class="ay" x="-10" y="308"/><text x="0" y="314">3.1.2.21</text></g><g class="m"><text x="0" y="338">Dodecanoic acid</text></g></g>
<g id="col6" transform="translate(384)"><g class="s"><rect class="ay" x="-20" y="120.5"/><text x="-10" y="126.5">FASN</text><rect class="a" x="-20" y="129"/><text x="-10" y="135">FAS1</text><rect class="a" x="-20" y="137"/><text x="-10" y="143">Fas</text><rect class="a" x="1" y="124.5"/><text x="11" y="130.5">FabB</text><rect class="ay" x="1" y="133"/><text x="11" y="139">FabF</text><rect class="ay" x="-20" y="161.5"/><text x="-10" y="167.5">FASN</text><rect class="a" x="-20" y="170"/><text x="-10" y="176">FAS1</text><rect class="a" x="-20" y="178"/><text x="-10" y="184">Fas</text><rect class="a" x="1" y="161.5"/><text x="11" y="167.5">FabG</text><rect class="a" x="1" y="170"/><text x="11" y="176">CBR4</text><rect class="a" x="1" y="178"/><text x="11" y="184">HSD17B8</text><rect class="ay" x="-20" y="202"/><text x="-10" y="208">FASN</text><rect class="a" x="-20" y="210.5"/><text x="-10" y="216.5">FAS1</text><rect class="a" x="-20" y="218.7"/><text x="-10" y="224.7">Fas</text><rect class="a" x="1" y="202"/><text x="11" y="208">FabA</text><rect class="a" x="1" y="210.5"/><text x="11" y="216.5">FabZ</text><rect class="a" x="1" y="218.7"/><text x="11" y="224.7">HTD2</text><rect class="ay" x="-20" y="246.5"/><text x="-10" y="252.5">FASN</text><rect class="a" x="-20" y="255"/><text x="-10" y="261">FAS1</text><rect class="a" x="-20" y="263"/><text x="-10" y="269">Fas</text><rect class="a" x="1" y="242"/><text x="11" y="248">FabI</text><rect class="a" x="1" y="250.3"/><text x="11" y="256.3">FabK</text><rect class="a" x="1" y="258.5"/><text x="11" y="264.5">FabL</text><rect class="a" x="1" y="266.7"/><text x="11" y="272.7">FabV</text><rect class="a" x="1" y="275"/><text x="11" y="281">MECR</text></g><g class="l"><text x="4" y="148">3-Oxo-</text><text x="4" y="153">tetradecanoyl-</text><text x="4" y="158">[acp]</text><text x="4" y="193">(R)-3-Hydroxy-</text><text x="4" y="198.5">tetradecanoyl-[acp]</text><text x="4" y="232">trans-Tetradec-</text><text x="4" y="238">2-enoyl-[acp]</text><text x="4" y="296">Tetradecanoyl-</text><text x="4" y="301.5">[acp]</text></g><g class="s"><rect class="ay" x="-20" y="307.5"/><text x="-10" y="313.5">FASN</text><rect class="a" x="1" y="307.5"/><text x="11" y="313.5">3.1.2.14</text></g><g class="m"><text x="-6" y="338">Tetradecanoic acid</text></g></g>
<g id="col7" transform="translate(445.7)"><g class="s"><rect class="ay" x="-20" y="120.5"/><text x="-10" y="126.5">FASN</text><rect class="a" x="-20" y="129"/><text x="-10" y="135">FAS1</text><rect class="a" x="-20" y="137"/><text x="-10" y="143">Fas</text><rect class="a" x="1" y="124.5"/><text x="11" y="130.5">FabB</text><rect class="ay" x="1" y="133"/><text x="11" y="139">FabF</text><rect class="ay" x="-20" y="161.5"/><text x="-10" y="167.5">FASN</text><rect class="a" x="-20" y="170"/><text x="-10" y="176">FAS1</text><rect class="a" x="-20" y="178"/><text x="-10" y="184">Fas</text><rect class="a" x="1" y="161.5"/><text x="11" y="167.5">FabG</text><rect class="a" x="1" y="170"/><text x="11" y="176">CBR4</text><rect class="a" x="1" y="178"/><text x="11" y="184">HSD17B8</text><rect class="ay" x="-20" y="202"/><text x="-10" y="208">FASN</text><rect class="a" x="-20" y="210.5"/><text x="-10" y="216.5">FAS1</text><rect class="a" x="-20" y="218.7"/><text x="-10" y="224.7">Fas</text><rect class="a" x="1" y="202"/><text x="11" y="208">FabA</text><rect class="a" x="1" y="210.5"/><text x="11" y="216.5">FabZ</text><rect class="a" x="1" y="218.7"/><text x="11" y="224.7">HTD2</text><rect class="ay" x="-20" y="246.5"/><text x="-10" y="252.5">FASN</text><rect class="a" x="-20" y="255"/><text x="-10" y="261">FAS1</text><rect class="a" x="-20" y="263"/><text x="-10" y="269">Fas</text><rect class="a" x="1" y="242"/><text x="11" y="248">FabI</text><rect class="a" x="1" y="250.3"/><text x="11" y="256.3">FabK</text><rect class="a" x="1" y="258.5"/><text x="11" y="264.5">FabL</text><rect class="a" x="1" y="266.7"/><text x="11" y="272.7">FabV</text><rect class="a" x="1" y="275"/><text x="11" y="281">MECR</text></g><g class="l"><text x="4" y="155">3-Oxohexadecanoyl-[acp]</text><text x="4" y="193">(R)-3-Hydroxy-</text><text x="4" y="198.5">hexadecanoyl-[acp]</text><text x="4" y="232">trans-Hexadec-</text><text x="4" y="238">2-enoyl-[acp]</text><text x="2" y="297">Hexa-</text><text x="2" y="302.5">decanoyl-[acp]</text><text x="4" y="334">Hexadecanoic</text><text x="4" y="339.5">acid</text></g><g class="s"><rect class="ay" x="-20" y="307.5"/><text x="-10" y="313.5">FASN</text><rect class="a" x="1" y="307.5"/><text x="11" y="313.5">3.1.2.14</text></g></g>
<g id="col8" transform="translate(544)"><g class="s"><rect class="a" x="-21" y="129"/><text x="-11" y="135">Fas</text><rect class="a" x="1" y="124.5"/><text x="11" y="130.5">FabB</text><rect class="ay" x="1" y="133"/><text x="11" y="139">FabF</text><rect class="a" x="-21" y="170"/><text x="-11" y="176">Fas</text><rect class="a" x="1" y="170"/><text x="11" y="176">FabG</text><rect class="a" x="-21" y="210.5"/><text x="-11" y="216.5">Fas</text><rect class="a" x="1" y="210.5"/><text x="11" y="216.5">FabZ</text><rect class="a" x="-21" y="255"/><text x="-11" y="261">Fas</text><rect class="a" x="1" y="250.3"/><text x="11" y="256.3">FabI</text><rect class="a" x="1" y="258.5"/><text x="11" y="264.5">FabK</text><rect class="a" x="-10" y="307.5"/><text x="0" y="313.5">3.1.2.14</text></g><g class="l"><text x="4" y="155">3-Oxooctadecanoyl-[acp]</text><text x="4" y="193">(R)-3-Hydroxy-</text><text x="4" y="198.5">octadecanoyl-[acp]</text><text x="4" y="235">trans-Octadec-2-enoyl-[acp]</text><text x="1" y="299">Octadecanoyl-</text><text x="1" y="304">[acp]</text></g><g class="m"><text x="-1" y="338">Octadecanoic acid</text></g></g>
<g id="k09458" class="k0"><use href="#sq" x="567" y="133"/><use href="#v" x="585.5" y="136.5"/><text x="591" y="139.5">K09458</text></g>
<g id="k01071" class="k0"><use href="#sq" x="188.5" y="300.7"/><use href="#u" x="199.8" y="304.5"/><use href="#v" x="207" y="304.5"/><text x="187" y="321.5">K01071</text></g>
<g id="k01897-l" class="k0"><text x="410" y="356.5">K01897</text><use href="#sq" x="435" y="353.5"/><use href="#u" x="446" y="357"/></g>
<g id="e-bottom" class="s"><rect class="a" x="229" y="300"/><text x="239" y="306">5.3.3.14</text><rect class="a" x="471" y="288"/><text x="481" y="294">1.14.19.2</text><rect class="a" x="491" y="307.5"/><text x="501" y="313.5">3.1.2.14</text><rect class="a" x="558" y="288"/><text x="568" y="294">1.14.19.2</text><rect class="a" x="585" y="307.5"/><text x="595" y="313.5">3.1.2.14</text><rect class="a" x="399" y="327"/><text x="409" y="333">FAS1</text><rect class="a" x="420" y="327"/><text x="430" y="333">Fas</text><rect class="ay" x="436" y="346"/><text x="446" y="352">6.2.1.3</text></g>
<g id="met-bot" class="l"><text x="210" y="323">trans-Dec-</text><text x="210" y="328.5">3-enoyl-[acp]</text><text x="491" y="282">Hexa-</text><text x="491" y="287.5">decenoyl-[acp]</text><text x="580" y="282">Octa-</text><text x="580" y="287.5">decenoyl-[acp]</text></g>
<g id="met-bot2" class="m"><text x="240" y="363">n-7 Unsaturated acyl-[acp]</text><text x="500" y="338">Hexadecenoic acid</text><text x="594" y="338">Octadecenoic acid</text><text x="422" y="377">Hexadecanoyl-CoA</text></g>
<rect x="50.7" y="405.7" width="455.3" height="282.6" fill="none" stroke="#888" stroke-width="1" id="fas-box"/>
<g id="fas1-labels" class="m"><text x="73" y="416.5">General forms</text><text x="166" y="417.5" font-weight="bold">Type I FAS</text><text x="165" y="425.5">(Animals, Fungi, Bacteria)</text><text x="73" y="467">Initiation</text><text x="137" y="433.5">Acetyl-CoA</text><text x="167" y="470">Malonyl-CoA</text><text x="69" y="649">Termination</text><text x="144" y="682">Long-chain acyl-CoA</text><text x="182" y="524.5">FAS1/2</text></g>
<g id="fas1-l2" class="l"><text x="59" y="562">Elongation</text><text x="59" y="567.5">cycle</text><text x="144" y="645">Long-chain</text><text x="144" y="650.5">fatty acid</text><text x="114" y="532">FASN</text></g>
<g id="fas1-e" class="s"><rect class="ay" x="157" y="444"/><text x="167" y="450">6.4.1.2</text><rect class="ay" x="130" y="526"/><text x="140" y="532">2.3.1.85</text><rect class="a" x="172.5" y="526"/><text x="182.5" y="532">2.3.1.86</text><rect class="a" x="194" y="526"/><text x="204" y="532">Fas</text><rect class="ay" x="130" y="655"/><text x="140" y="661">6.2.1.3</text></g>
<g id="fas2-labels" class="m"><text x="345.7" y="417.5" font-weight="bold">Type II FAS</text><text x="300" y="425.5">(Bacteria, Plants)</text><text x="426" y="425.5">In mitochondria (Animals, Fungi)</text><text x="258" y="433.5">Acetyl-CoA</text><text x="376" y="433.5">Acetyl-CoA</text><text x="257" y="666">Long-chain acyl-[acp]</text><text x="300" y="681">Long-chain acyl-CoA</text><text x="424" y="654">Octanoyl-[acp]</text><text x="379" y="666">Long-chain acyl-[acp]</text><text x="379" y="672.5">(Hexadecanoyl-[acp])</text><text x="380" y="480">Acetyl-[acp]</text></g>
<g id="fas2-e" class="e"><text x="297" y="463">Malonyl-CoA</text><text x="288" y="480">FabD</text><text x="276" y="509">FabB</text><text x="276" y="606">FabL</text><text x="297" y="617">Long-chain acyl-[acp]</text><text x="418" y="463">Malonyl-CoA</text><text x="410" y="480">MCT1</text><text x="410" y="510">CEM1</text><text x="418" y="617">Acyl-[acp]</text></g>
<g id="fas2-l" class="l"><text x="318" y="472">ACP</text><text x="304" y="494">Malonyl-[acp]</text><text x="232" y="498">FabH</text><text x="232" y="503.5">FabY</text><text x="323" y="509.5">FabF</text><text x="304" y="527">3-Oxoacyl-[acp]</text><text x="313" y="543">FabG</text><text x="304" y="555.5">(R)-3-Hydroxy-</text><text x="304" y="561">acyl-[acp]</text><text x="313" y="571.5">FabA</text><text x="313" y="577">FabZ</text><text x="304" y="590.5">trans-2-Enoyl-[acp]</text><text x="323" y="600">FabI</text><text x="323" y="605.5">FabK</text><text x="323" y="611">FabV</text><text x="304" y="645">Long-chain</text><text x="304" y="650.5">fatty acid</text><text x="475" y="463">Malonate</text><text x="440" y="472">ACP</text><text x="433" y="480">MCAT</text><text x="426" y="494">Malonyl-[acp]</text><text x="426" y="527">3-Oxoacyl-[acp]</text><text x="426" y="555.5">(R)-3-Hydroxy-</text><text x="426" y="561">acyl-[acp]</text><text x="426" y="590.5">trans-2-Enoyl-[acp]</text></g>
<g id="fas2-box" class="s"><rect class="ay" x="290" y="444"/><text x="300" y="450">6.4.1.2</text><rect class="a" x="290" y="474"/><text x="300" y="480">2.3.1.39</text><rect class="a" x="245" y="496"/><text x="255" y="502">2.3.1.180</text><rect class="a" x="278" y="503"/><text x="288" y="509">2.3.1.41</text><rect class="ay" x="301" y="503"/><text x="311" y="509">2.3.1.179</text><rect class="a" x="290" y="537"/><text x="300" y="543">1.1.1.100</text><rect class="a" x="290" y="568.5"/><text x="300" y="574.5">4.2.1.59</text><rect class="a" x="278" y="600.7"/><text x="288" y="606.7">1.3.1.104</text><rect class="a" x="301" y="597"/><text x="311" y="603">1.3.1.9</text><rect class="a" x="301" y="605"/><text x="311" y="611">1.3.1.10</text><rect class="a" x="278" y="628"/><text x="288" y="634">3.1.2.21</text><rect class="a" x="301" y="628"/><text x="311" y="634">3.1.2.14</text><rect class="ay" x="290" y="655"/><text x="300" y="661">6.2.1.3</text><rect class="ay" x="412" y="444"/><text x="422" y="450">6.4.1.2</text><rect class="a" x="438" y="457.5"/><text x="448" y="463.5">6.2.1.-</text><rect class="a" x="412" y="474"/><text x="422" y="480">2.3.1.39</text><rect class="ay" x="367" y="504"/><text x="377" y="510">OXSM</text><rect class="ay" x="412" y="504"/><text x="422" y="510">OXSM</text><rect class="a" x="400" y="537.5"/><text x="410" y="543.5">CBAR1</text><rect class="a" x="422" y="533.5"/><text x="432" y="539.5">CBR4</text><rect class="a" x="422" y="541"/><text x="432" y="547">HSD17B8</text><rect class="a" x="412" y="568.5"/><text x="422" y="574.5">HTD2</text><rect class="a" x="412" y="600.7"/><text x="422" y="606.7">MECR</text></g>
<g id="note-left"><text x="8" y="696" font-size="5.4">00090 3/25/20</text><text x="8" y="701" font-size="5.4">(c) Kanehisa Laboratories</text></g>
<g id="title-degradation"><rect x="693.5" y="22.7" width="136" height="16.3" fill="#fff" stroke="#666" stroke-width="1.4"/><text x="759" y="35" font-size="8" text-anchor="middle" letter-spacing=".5">FATTY ACID DEGRADATION</text></g>
<g id="pw-fab"><rect class="pill" x="732.7" y="55" width="50.6" height="22.7" rx="7"/><g class="p"><text x="739" y="65.5">Fatty acid</text><text x="739" y="72.5">biosynthesis</text></g></g>
<g id="pw-elong2"><rect class="pill" x="818" y="57" width="75" height="17" rx="8"/><g class="pm"><text x="855.5" y="68.5">Fatty acid elongation</text></g></g>
<g id="pw-glyc2"><rect class="pill" x="818" y="75" width="87" height="16.7" rx="8"/><g class="pm"><text x="861.5" y="86.5">Glycerolipid metabolism</text></g></g>
<g id="m-hexa" class="p"><text x="708" y="107">Hexadecanoate</text><text x="708" y="114">(Fatty acid)</text><text x="811" y="119.5">16-Hexadecanal</text><text x="901" y="109">16-Hexadecanol</text><text x="762" y="148">Hexadecanoyl-CoA</text><text x="715" y="184.5">L-Palmitoyl-</text><text x="715" y="191.5">carnitine</text></g>
<g id="e-rt" class="r"><rect class="c" x="779.5" y="100"/><text x="794" y="108">1.2.1.48</text><rect class="c" x="844.5" y="100"/><text x="859" y="108">1.1.1.192</text><rect class="cy" x="743" y="120.7"/><text x="758" y="129">6.2.1.3</text><rect class="cy" x="743" y="157"/><text x="758" y="165.5">CPT1</text><rect class="c" x="743" y="195.7"/><text x="758" y="204">CPT2</text></g>
<g id="k01897-r" class="k1"><text x="674" y="129">K01897</text><use href="#sq2" x="709.5" y="121"/><use href="#u" x="726" y="126"/></g>
<g id="k08765" class="k1"><text x="674" y="165.5">K08765</text><use href="#sq2" x="709.5" y="157"/><use href="#u" x="726" y="162"/></g>
<g id="table-right" class="t">
<rect x="1015" y="52.7" width="29.7" height="10.1" fill="#fff"/><rect x="1044.7" y="52.7" width="33.3" height="10.1" fill="#f00"/><rect x="1078" y="52.7" width="36" height="10.1" fill="#00b0f0"/><rect x="1114" y="52.7" width="37" height="10.1" fill="#7030a0"/>
<text x="1030" y="60.3">ko</text><text x="1061" y="60.3">30x24</text><text x="1096" y="60.3">30x8</text><text x="1132" y="60.3">8x24</text>
<rect x="1015" y="62.8" width="29.7" height="10.4" fill="#fff"/><rect x="1044.7" y="62.8" width="33.3" height="10.4" fill="#fff"/><rect x="1078" y="62.8" width="36" height="10.4" fill="#c6efce"/><rect x="1114" y="62.8" width="37" height="10.4" fill="#fff"/>
<text x="1030" y="70.5">K01897</text><text x="1061" y="70.5">NA</text><text class="g" x="1096" y="70.5">1.86543</text><text x="1132" y="70.5">NA</text>
<rect x="1015" y="73.2" width="29.7" height="10.4" fill="#fff"/><rect x="1044.7" y="73.2" width="33.3" height="10.4" fill="#fff"/><rect x="1078" y="73.2" width="36" height="10.4" fill="#c6efce"/><rect x="1114" y="73.2" width="37" height="10.4" fill="#fff"/>
<text x="1030" y="81">K08765</text><text x="1061" y="81">NA</text><text class="g" x="1096" y="81">0.668589</text><text x="1132" y="81">NA</text>
<rect x="1015" y="83.6" width="29.7" height="10.4" fill="#fff"/><rect x="1044.7" y="83.6" width="33.3" height="10.4" fill="#fff"/><rect x="1078" y="83.6" width="36" height="10.4" fill="#ffc7ce"/><rect x="1114" y="83.6" width="37" height="10.4" fill="#c6efce"/>
<text x="1030" y="91.3">K00232</text><text x="1061" y="91.3">NA</text><text class="d" x="1097" y="91.3">-1.76473</text><text class="g" x="1134" y="91.3">2.30037</text>
<rect x="1015" y="94" width="29.7" height="10.6" fill="#fff"/><rect x="1044.7" y="94" width="33.3" height="10.6" fill="#c6efce"/><rect x="1078" y="94" width="36" height="10.6" fill="#c6efce"/><rect x="1114" y="94" width="37" height="10.6" fill="#fff"/>
<text x="1030" y="102">K00249</text><text class="g" x="1061" y="102">3.54163</text><text class="g" x="1100" y="102">2.9915</text><text x="1132" y="102">NA</text>
<rect x="1015" y="104.6" width="29.7" height="10.6" fill="#fff"/><rect x="1044.7" y="104.6" width="33.3" height="10.6" fill="#fff"/><rect x="1078" y="104.6" width="36" height="10.6" fill="#c6efce"/><rect x="1114" y="104.6" width="37" height="10.6" fill="#fff"/>
<text x="1030" y="112.5">K00248</text><text x="1061" y="112.5">NA</text><text class="g" x="1096" y="112.5">0.830716</text><text x="1132" y="112.5">NA</text>
<rect x="1015" y="115.2" width="29.7" height="10.6" fill="#fff"/><rect x="1044.7" y="115.2" width="33.3" height="10.6" fill="#ffc7ce"/><rect x="1078" y="115.2" width="36" height="10.6" fill="#fff"/><rect x="1114" y="115.2" width="37" height="10.6" fill="#ffc7ce"/>
<text x="1030" y="123">K13239</text><text class="d" x="1061" y="123">-2.50852</text><text x="1096" y="123">NA</text><text class="d" x="1134" y="123">-2.14987</text>
<rect x="1015" y="125.8" width="29.7" height="10.4" fill="#fff"/><rect x="1044.7" y="125.8" width="33.3" height="10.4" fill="#fff"/><rect x="1078" y="125.8" width="36" height="10.4" fill="#c6efce"/><rect x="1114" y="125.8" width="37" height="10.4" fill="#c6efce"/>
<text x="1030" y="133.5">K00121</text><text x="1061" y="133.5">NA</text><text class="g" x="1096" y="133.5">0.766597</text><text class="g" x="1134" y="133.5">1.14822</text>
<rect x="1015" y="136.2" width="29.7" height="9.8" fill="#fff"/><rect x="1044.7" y="136.2" width="33.3" height="9.8" fill="#fff"/><rect x="1078" y="136.2" width="36" height="9.8" fill="#c6efce"/><rect x="1114" y="136.2" width="37" height="9.8" fill="#ffc7ce"/>
<text x="1030" y="143.7">K14085</text><text class="g" x="1099" y="143.7">1.91072</text><text class="d" x="1134" y="143.7">-1.69986</text>
</g>
<g id="rc1" transform="translate(757.7)"><g class="r"><rect class="cy" x="-29.5" y="230.5"/><text x="-15" y="239">1.3.3.6</text><rect class="c" x=".5" y="230.5"/><text x="15" y="239">1.3.99.-</text><rect class="cy" x="-29.5" y="242.3"/><text x="-15" y="250.7">1.3.8.7</text><rect class="c" x=".5" y="242.3"/><text x="15" y="250.7">1.3.8.8</text><rect class="c" x="-15" y="254"/><text x="0" y="262.5">1.3.8.9</text><rect class="c" x="-30" y="301"/><text x="-15" y="309.5">4.2.1.17</text><rect class="c" x=".5" y="301"/><text x="15" y="309.5">4.2.1.74</text><rect class="c" x="-30" y="353.5"/><text x="-15" y="362">1.1.1.35</text><rect class="c" x=".5" y="353.5"/><text x="15" y="362">1.1.1.211</text><rect class="c" x="8" y="401.7"/><text x="23" y="410">2.3.1.16</text></g><g class="p"><text x="5" y="215">Hexa-</text><text x="5" y="222">decanoyl-</text><text x="5" y="229">CoA</text><text x="5" y="275">trans-</text><text x="5" y="282">Hexadec-</text><text x="5" y="289">2-enoyl-</text><text x="5" y="296">-CoA</text><text x="5" y="322">(S)-3-</text><text x="5" y="329">Hydroxy-</text><text x="5" y="336">hexa-</text><text x="5" y="343">decanoyl-</text><text x="5" y="350">CoA</text><text x="5" y="375">3-Oxo-</text><text x="5" y="382">hexa-</text><text x="5" y="389">decanoyl-</text><text x="5" y="396">CoA</text></g><g class="pe"><text x="-5" y="431.5">CoA</text></g></g>
<g id="rc2" transform="translate(836)"><g class="r"><rect class="cy" x="-29.5" y="230.5"/><text x="-15" y="239">1.3.3.6</text><rect class="c" x=".5" y="230.5"/><text x="15" y="239">1.3.99.-</text><rect class="cy" x="-29.5" y="242.3"/><text x="-15" y="250.7">1.3.8.7</text><rect class="c" x=".5" y="242.3"/><text x="15" y="250.7">1.3.8.8</text><rect class="c" x="-15" y="254"/><text x="0" y="262.5">1.3.8.9</text><rect class="c" x="-30" y="301"/><text x="-15" y="309.5">4.2.1.17</text><rect class="c" x=".5" y="301"/><text x="15" y="309.5">4.2.1.74</text><rect class="c" x="-30" y="353.5"/><text x="-15" y="362">1.1.1.35</text><rect class="c" x=".5" y="353.5"/><text x="15" y="362">1.1.1.211</text><rect class="c" x="8" y="401.7"/><text x="23" y="410">2.3.1.16</text></g><g class="p"><text x="5" y="215">Tetra-</text><text x="5" y="222">decanoyl-</text><text x="5" y="229">CoA</text><text x="5" y="275">trans-</text><text x="5" y="282">Tetradec-</text><text x="5" y="289">2-enoyl-</text><text x="5" y="296">CoA</text><text x="5" y="322">(S)-3-</text><text x="5" y="329">Hydroxy-</text><text x="5" y="336">tetra-</text><text x="5" y="343">decanoyl-</text><text x="5" y="350">CoA</text><text x="5" y="375">3-Oxo-</text><text x="5" y="382">tetra-</text><text x="5" y="389">decanoyl-</text><text x="5" y="396">CoA</text></g><g class="pe"><text x="-5" y="431.5">CoA</text></g></g>
<g id="rc3" transform="translate(915)"><g class="r"><rect class="cy" x="-30" y="239.3"/><text x="-15" y="248">1.3.3.6</text><rect class="c" x=".5" y="239.3"/><text x="15" y="248">1.3.99.-</text><rect class="cy" x="-30" y="251"/><text x="-15" y="259.5">1.3.8.7</text><rect class="c" x=".5" y="251"/><text x="15" y="259.5">1.3.8.8</text><rect class="c" x="-30" y="301"/><text x="-15" y="309.5">4.2.1.17</text><rect class="c" x=".5" y="301"/><text x="15" y="309.5">4.2.1.74</text><rect class="c" x="-30" y="353.5"/><text x="-15" y="362">1.1.1.35</text><rect class="c" x=".5" y="353.5"/><text x="15" y="362">1.1.1.211</text><rect class="c" x="8" y="401.7"/><text x="23" y="410">2.3.1.16</text></g><g class="p"><text x="5" y="219">Dodecanoyl-</text><text x="5" y="226">CoA</text><text x="5" y="275">trans-Dodec-</text><text x="5" y="282">2-enoyl-</text><text x="5" y="289">CoA</text><text x="5" y="325">(S)-3-</text><text x="5" y="332">Hydroxy-</text><text x="5" y="339">dodecanoyl-</text><text x="5" y="346">CoA</text><text x="5" y="378">3-Oxo-</text><text x="5" y="385">dodecanoyl-</text><text x="5" y="392">CoA</text></g><g class="pe"><text x="-5" y="431.5">CoA</text></g></g>
<g id="rc4" transform="translate(993.3)"><g class="r"><rect class="cy" x="-30" y="239.3"/><text x="-15" y="248">1.3.3.6</text><rect class="c" x=".5" y="239.3"/><text x="15" y="248">1.3.99.-</text><rect class="cy" x="-30" y="251"/><text x="-15" y="259.5">1.3.8.7</text><rect class="c" x=".5" y="251"/><text x="15" y="259.5">1.3.8.8</text><rect class="c" x="-30" y="301"/><text x="-15" y="309.5">4.2.1.17</text><rect class="c" x=".5" y="301"/><text x="15" y="309.5">4.2.1.74</text><rect class="c" x="-30" y="353.5"/><text x="-15" y="362">1.1.1.35</text><rect class="c" x=".5" y="353.5"/><text x="15" y="362">1.1.1.211</text><rect class="c" x="8" y="401.7"/><text x="23" y="410">2.3.1.16</text></g><g class="p"><text x="5" y="219">Decanoyl-</text><text x="5" y="226">CoA</text><text x="5" y="275">trans-Dec-</text><text x="5" y="282">2-enoyl-</text><text x="5" y="289">CoA</text><text x="5" y="325">(S)-3-</text><text x="5" y="332">Hydroxy-</text><text x="5" y="339">decanoyl-</text><text x="5" y="346">CoA</text><text x="5" y="378">3-Oxo-</text><text x="5" y="385">decanoyl-</text><text x="5" y="392">CoA</text></g><g class="pe"><text x="-5" y="431.5">CoA</text></g></g>
<g id="rc5" transform="translate(1072.3)"><g class="r"><rect class="cy" x="-29.5" y="239.3"/><text x="-15" y="248">1.3.3.6</text><rect class="c" x=".5" y="239.3"/><text x="15" y="248">1.3.99.-</text><rect class="cy" x="-29.5" y="251"/><text x="-15" y="259.5">1.3.8.7</text><rect class="c" x=".5" y="251"/><text x="15" y="259.5">1.3.8.8</text><rect class="c" x="-30" y="301"/><text x="-15" y="309.5">4.2.1.17</text><rect class="c" x=".5" y="301"/><text x="15" y="309.5">4.2.1.74</text><rect class="c" x="-30" y="353.5"/><text x="-15" y="362">1.1.1.35</text><rect class="c" x=".5" y="353.5"/><text x="15" y="362">1.1.1.211</text><rect class="c" x="9" y="401.7"/><text x="24" y="410">2.3.1.16</text></g><g class="p"><text x="5" y="219">Octanoyl-</text><text x="5" y="226">CoA</text><text x="5" y="275">trans-Oct-</text><text x="5" y="282">2-enoyl-</text><text x="5" y="289">CoA</text><text x="5" y="325">(S)-3-</text><text x="5" y="332">Hydroxy-</text><text x="5" y="339">octanoyl-</text><text x="5" y="346">CoA</text><text x="5" y="378">3-Oxo-</text><text x="5" y="385">octanoyl-</text><text x="5" y="392">CoA</text></g><g class="pe"><text x="-5" y="431.5">CoA</text></g></g>
<g id="rc6" transform="translate(1151.7)"><g class="r"><rect class="cy" x="-30" y="230.5"/><text x="-15" y="239">1.3.8.1</text><rect class="cy" x="1" y="230.5"/><text x="16" y="239">1.3.3.6</text><rect class="cy" x="-30" y="242.3"/><text x="-15" y="250.7">1.3.8.7</text><rect class="c" x="1" y="242.3"/><text x="16" y="250.7">1.3.8.8</text><rect class="c" x="-30" y="254"/><text x="-15" y="262.5">1.3.8.5</text><rect class="c" x="1" y="254"/><text x="16" y="262.5">1.3.99.-</text><rect class="c" x="-30" y="301"/><text x="-15" y="309.5">4.2.1.17</text><rect class="c" x=".5" y="301"/><text x="15" y="309.5">4.2.1.74</text><rect class="c" x="-30" y="353.5"/><text x="-15" y="362">1.1.1.35</text><rect class="c" x=".5" y="353.5"/><text x="15" y="362">1.1.1.211</text><rect class="c" x="8.3" y="395"/><text x="23" y="403.5">2.3.1.9</text><rect class="c" x="8.3" y="407.5"/><text x="23" y="416">2.3.1.16</text></g><g class="p"><text x="5" y="219">Hexanoyl-</text><text x="5" y="226">CoA</text><text x="5" y="275">trans-Hex-</text><text x="5" y="282">2-enoyl-</text><text x="5" y="289">CoA</text><text x="5" y="325">(S)-3-</text><text x="5" y="332">Hydroxy-</text><text x="5" y="339">hexanoyl-</text><text x="5" y="346">CoA</text><text x="5" y="378">3-Oxo-</text><text x="5" y="385">hexanoyl-</text><text x="5" y="392">CoA</text></g><g class="pe"><text x="-5" y="431.5">CoA</text></g></g>
<g id="rc7" transform="translate(1230)"><g class="r"><rect class="cy" x="-30" y="230.5"/><text x="-15" y="239">1.3.3.6</text><rect class="c" x="1" y="230.5"/><text x="16" y="239">1.3.8.5</text><rect class="cy" x="-30" y="242.3"/><text x="-15" y="250.7">1.3.8.1</text><rect class="cy" x="1" y="242.3"/><text x="16" y="250.7">1.3.8.7</text><rect class="c" x="-13.5" y="254"/><text x="1" y="262.5">1.3.99.-</text><rect class="c" x="-13.5" y="300"/><text x="1" y="308.5">4.2.1.17</text><rect class="c" x="-13.5" y="352"/><text x="1" y="360.5">1.1.1.35</text><rect class="c" x="-29" y="402"/><text x="-14" y="410.5">2.3.1.16</text><rect class="c" x="1" y="402"/><text x="16" y="410.5">2.3.1.9</text><rect class="c" x="36" y="209"/><text x="50.5" y="217.5">6.2.1.6</text><rect class="c" x="36" y="253.5"/><text x="50.5" y="262">1.3.8.6</text></g><g class="p"><text x="5" y="219">Butanoyl-</text><text x="5" y="226">CoA</text><text x="5" y="286">trans-But-</text><text x="5" y="293">2-enoyl-CoA</text><text x="5" y="331">(S)-3-Hydroxy-</text><text x="5" y="338">butanoyl-CoA</text><text x="5" y="380">Acetoacetyl-CoA</text><text x="57" y="198">Glutarate</text><text x="56" y="236.5">Glutaryl-</text><text x="56" y="243.5">CoA</text></g></g>
<g id="k00232" class="k1"><text x="659" y="238.5">K00232</text><use href="#sq2" x="694" y="229.5"/><use href="#u" x="710.5" y="234.5"/><use href="#u" x="721.5" y="234.5"/></g>
<g id="k00249" class="k1"><text x="659" y="250">K00249</text><use href="#sq2" x="694" y="241"/><use href="#u" x="699.5" y="246"/><use href="#u" x="710.5" y="246"/></g>
<g id="k00248" class="k1"><text x="1113" y="217">K00248</text><use href="#sq2" x="1117.5" y="219"/><use href="#u" x="1134" y="224"/></g>
<g id="pw-ketone"><rect class="pill" x="1266.7" y="400.7" width="90.3" height="22.3" rx="7"/><g class="p"><text x="1272" y="410.5">Synthesis and degradation</text><text x="1272" y="417.5">of ketone bodies</text></g></g>
<g id="pw-butan"><rect class="pill" x="1281.7" y="475" width="78.3" height="16" rx="8"/><g class="pm"><text x="1321" y="486">Butanoate metabolism</text></g></g>
<g id="pw-glyox"><rect class="pill" x="1281.7" y="493" width="87" height="22.6" rx="7"/><g class="p"><text x="1286" y="503">Glyoxylate and</text><text x="1286" y="510">dicarboxylate metabolism</text></g></g>
<g id="pw-citr2"><rect class="pill" x="1203" y="535" width="53" height="17" rx="8"/><g class="pm"><text x="1229.5" y="546.5">Citrate cycle</text></g></g>
<g id="m-ac" class="pe"><text x="1226" y="486">Acetyl-CoA</text><text x="915" y="482.5">Long-chain-fatty acid</text><text x="913" y="513.5">cis,cis-3,6-Dodecadienoyl-CoA</text><text x="911" y="529.5">(R)-3-Hydroxybutanoyl-CoA</text><text x="834" y="570">Alkane</text><text x="847" y="591">Rubredoxin (red)</text></g>
<g id="m-low" class="p"><text x="1009" y="482.5">Long-chain acyl-[acyl-carrier protein]</text><text x="944" y="499.5">[Acyl-carrier protein]</text><text x="1009" y="513.5">trans,cis-Lauro-2,6-dienoyl-CoA</text><text x="1009" y="529.5">(S)-3-Hydroxybutanoyl-CoA</text><text x="1117" y="570">ω-Hydroxy fatty acid</text><text x="1117" y="590">α-Hydroxy fatty acid</text><text x="910" y="591">Rubredoxin (ox)</text></g>
<g id="m-low2" class="pm"><text x="920" y="559.5">1-Alcohol</text><text x="985" y="559.5">Aldehyde</text><text x="1049" y="561">Fatty acid</text></g>
<g id="e-low" class="r"><rect class="c" x="947.7" y="475"/><text x="962.5" y="483.5">6.2.1.20</text><rect class="cy" x="947.7" y="506"/><text x="962.5" y="514.5">5.3.3.8</text><rect class="c" x="947.7" y="522"/><text x="962.5" y="530.5">5.1.2.3</text><rect class="c" x="863" y="563"/><text x="878" y="571.5">1.14.15.3</text><rect class="c" x="863" y="577"/><text x="878" y="585.5">1.18.1.3</text><rect class="c" x="863" y="590"/><text x="878" y="598.5">1.18.1.4</text><rect class="c" x="863" y="603.5"/><text x="878" y="612">1.18.1.1</text><rect class="cy" x="939" y="556.5"/><text x="954" y="565">1.1.1.1</text><rect class="c" x="939" y="568"/><text x="954" y="576.5" textLength="26" lengthAdjust="spacingAndGlyphs">1.1.99.20</text><rect class="cy" x="1002.7" y="556.5"/><text x="1017.5" y="565">1.2.1.3</text><rect class="c" x="1002.7" y="568"/><text x="1017.5" y="576.5">1.2.5.2</text><rect class="c" x="1065" y="555"/><text x="1080" y="563.5">1.14.15.3</text><rect class="c" x="1065" y="568"/><text x="1080" y="576.5" textLength="26" lengthAdjust="spacingAndGlyphs">1.14.14.80</text><rect class="c" x="1065" y="583"/><text x="1080" y="591.5">1.14.14.1</text></g>
<g id="k13239" class="k1"><use href="#sq2" transform="translate(1007.7,494.3) scale(1,1.27)"/><use href="#v" x="1013" y="500.5"/><use href="#v" x="1035" y="500.5"/><text x="1041" y="504">K13239</text></g>
<g id="k00121" class="k1"><text x="935" y="543.5">K00121</text><use href="#sq2" x="936" y="545"/><use href="#u" x="952.5" y="550"/><use href="#u" x="963.5" y="550"/></g>
<g id="k14085" class="k1"><text x="1000" y="543.5">K14085</text><use href="#sq2" x="1000.7" y="545"/><use href="#u" x="1017" y="550"/><use href="#v" x="1028" y="550"/></g>
<g id="note-right"><text x="678" y="627" font-size="7.5">00071 1/13/21</text><text x="678" y="634.5" font-size="7.5">(c) Kanehisa Laboratories</text></g>
</g>
</svg>
